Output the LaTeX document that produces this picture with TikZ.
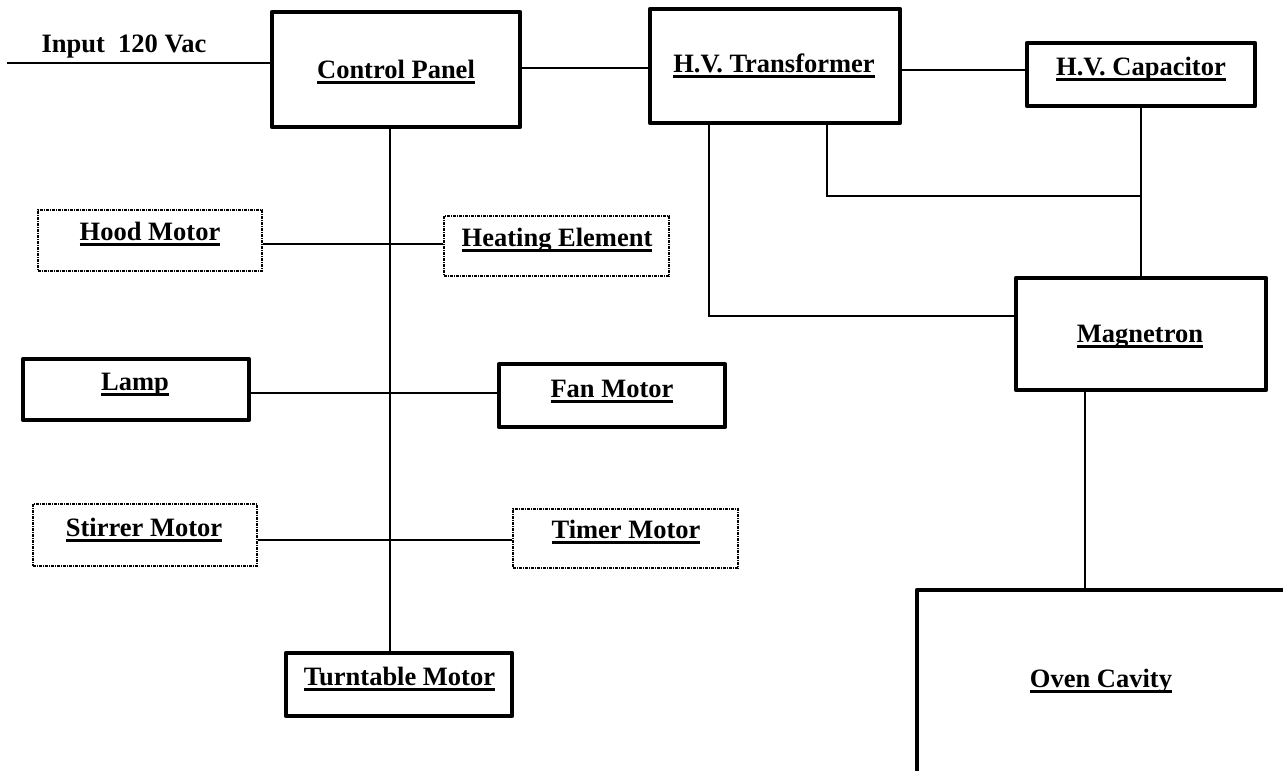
\documentclass[tikz,border=0pt]{standalone}
\usepackage{fontspec}
\setmainfont{Liberation Serif}
\newcommand\myul[1]{\setbox0\hbox{#1}\rlap{\rule[-6pt]{\wd0}{2.6pt}}\box0}
\begin{document}
\begin{tikzpicture}[x=1pt,y=-1pt,
  thickbox/.style={draw,line width=4.5pt,line join=round,inner sep=0pt},
  dotbox/.style={draw,line width=1.4pt,dash pattern=on 3pt off 1pt on 1pt off 1pt,inner sep=0pt},
  wire/.style={line width=2.6pt},
  lbl/.style={font=\fontsize{26.5}{30}\selectfont\bfseries,inner sep=0pt,anchor=base}]
\useasboundingbox (0,0) rectangle (1283,771);
% boxes
\node[thickbox,minimum width=248pt,minimum height=115pt] (cp) at (396,69.5) {};
\node[thickbox,minimum width=250pt,minimum height=114pt] (tr) at (775,66) {};
\node[thickbox,minimum width=228pt,minimum height=63pt] (ca) at (1141,74.5) {};
\node[thickbox,minimum width=250pt,minimum height=112pt] (mg) at (1141,334) {};
\node[thickbox,minimum width=368pt,minimum height=200pt] (ov) at (1101,690) {};
\node[dotbox,minimum width=224pt,minimum height=61pt] (hood) at (150,240.5) {};
\node[dotbox,minimum width=225pt,minimum height=60pt] (heat) at (556.5,246) {};
\node[thickbox,minimum width=226pt,minimum height=61pt] (lamp) at (136,389.5) {};
\node[thickbox,minimum width=226pt,minimum height=63pt] (fan) at (612,395.5) {};
\node[dotbox,minimum width=224pt,minimum height=62pt] (stir) at (145,535) {};
\node[dotbox,minimum width=225pt,minimum height=59pt] (timer) at (625.5,538.5) {};
\node[thickbox,minimum width=226pt,minimum height=63pt] (tu) at (399,684.5) {};
% labels
\node[lbl] (tin) at (124,52) {Input\ \ 120 Vac};
\node[lbl] (tcp) at (396,78) {\myul{Control Panel}};
\node[lbl] (ttr) at (774,72) {\myul{H.V. Transformer}};
\node[lbl] (tca) at (1141,75) {\myul{H.V. Capacitor}};
\node[lbl] (tmg) at (1140,342) {\myul{Magnetron}};
\node[lbl] (tov) at (1101,687) {\myul{Oven Cavity}};
\node[lbl] (thood) at (150,240) {\myul{Hood Motor}};
\node[lbl] (theat) at (557,246) {\myul{Heating Element}};
\node[lbl] (tlamp) at (135,390) {\myul{Lamp}};
\node[lbl] (tfan) at (612,397) {\myul{Fan Motor}};
\node[lbl] (tstir) at (144,536) {\myul{Stirrer Motor}};
\node[lbl] (ttimer) at (626,538) {\myul{Timer Motor}};
\node[lbl] (ttu) at (399.5,685) {\myul{Turntable Motor}};
% junction coordinates
\coordinate (inp) at (7,63);
\coordinate (y1) at (0,68);
\coordinate (y2) at (0,70);
\coordinate (bus) at (390,0);
\coordinate (j1) at (827,196);
\coordinate (j2) at (709,316);
\coordinate (x3) at (1085,0);
\coordinate (yh) at (0,244);
\coordinate (yl) at (0,393);
\coordinate (ys) at (0,540);
% connectors
\draw[wire] (inp) -- (inp -| cp.west);
\draw[wire] (cp.east |- y1) -- (tr.west |- y1);
\draw[wire] (tr.east |- y2) -- (ca.west |- y2);
\draw[wire] (ca.south) -- (mg.north);
\draw[wire] (tr.south -| j1) -- (j1) -- (j1 -| ca.south);
\draw[wire] (tr.south -| j2) -- (j2) -- (j2 -| mg.west);
\draw[wire] (mg.south -| x3) -- (ov.north -| x3);
\draw[wire] (cp.south -| bus) -- (tu.north -| bus);
\draw[wire] (hood.east |- yh) -- (heat.west |- yh);
\draw[wire] (lamp.east |- yl) -- (fan.west |- yl);
\draw[wire] (stir.east |- ys) -- (timer.west |- ys);
\end{tikzpicture}
\end{document}
